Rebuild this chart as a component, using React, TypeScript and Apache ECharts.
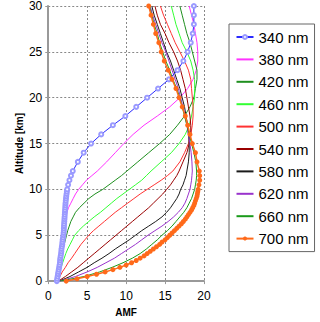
import React, { useEffect, useRef } from "react";
import * as echarts from "echarts";

// Altitude grids [km]
const ALT_FINE = [
  0, 0.25, 0.5, 0.75, 1, 1.25, 1.5, 1.75, 2, 2.25, 2.5, 2.75, 3, 3.25, 3.5, 3.75,
  4, 4.25, 4.5, 4.75, 5, 5.25, 5.5, 5.75, 6, 6.25, 6.5, 6.75, 7, 7.25, 7.5, 7.75,
  8, 8.25, 8.5, 8.75, 9, 9.25, 9.5, 9.75, 10, 10.5, 11, 11.5, 12,
  13, 14, 15, 16, 17, 18, 19, 20, 21, 22, 23, 24, 25, 26, 27, 28, 29, 30,
];
const ALT = [
  0, 0.5, 1, 1.5, 2, 2.5, 3, 3.5, 4, 4.5, 5, 5.5, 6, 6.5, 7, 7.5, 8, 8.5, 9, 9.5,
  10, 10.5, 11, 11.5, 12, 13, 14, 15, 16, 17, 18, 19, 20, 21, 22, 23, 24, 25, 26,
  27, 28, 29, 30,
];

// AMF values per wavelength
const AMF_340 = [
  1.1, 1.15, 1.2, 1.25, 1.3, 1.35, 1.4, 1.45, 1.5, 1.52, 1.55, 1.6, 1.65, 1.68, 1.7, 1.75,
  1.8, 1.82, 1.85, 1.9, 1.95, 1.97, 2.0, 2.0, 2.02, 2.04, 2.06, 2.08, 2.1, 2.12, 2.14, 2.16,
  2.18, 2.2, 2.22, 2.25, 2.28, 2.31, 2.35, 2.39, 2.43, 2.55, 2.72, 2.92, 3.15,
  3.8, 4.55, 5.5, 6.8, 8.3, 9.9, 11.3, 12.7, 14.1, 15.5, 16.6, 17.35, 17.9, 18.3, 18.55, 18.7, 18.7, 18.7,
];
const AMF_700 = [
  2.3, 3.7, 5.0, 6.2, 7.3, 8.3, 9.2, 10.0, 10.7, 11.3, 11.8, 12.3, 12.7, 13.1, 13.5, 13.9,
  14.3, 14.6, 15.0, 15.3, 15.6, 15.9, 16.2, 16.5, 16.8, 17.1, 17.35, 17.6, 17.8, 18.0, 18.2, 18.4,
  18.55, 18.7, 18.8, 18.9, 19.0, 19.1, 19.15, 19.2, 19.25, 19.35, 19.45, 19.45, 19.4,
  19.1, 18.9, 18.5, 18.2, 17.9, 17.6, 17.2, 16.8, 16.4, 15.9, 15.4, 14.9, 14.5, 14.2, 13.8, 13.5, 13.2, 12.9,
];
const AMF_380 = [
  1.15, 1.25, 1.35, 1.45, 1.55, 1.6, 1.7, 1.75, 1.85, 1.9, 2.0, 2.05, 2.1, 2.15, 2.25, 2.4,
  2.6, 2.9, 3.2, 3.5, 3.9, 4.4, 4.9, 5.6, 6.3, 7.5, 8.6, 9.7, 10.9, 12.3, 14.0, 15.6, 16.9,
  17.9, 18.6, 19.0, 19.2, 19.2, 19.1, 18.9, 18.7, 18.4, 18.1,
];
const AMF_420 = [
  1.15, 1.25, 1.35, 1.45, 1.55, 1.65, 1.8, 1.9, 2.05, 2.2, 2.35, 2.5, 2.7, 2.9, 3.2, 3.5,
  4.0, 4.6, 5.2, 6.0, 7.0, 7.8, 8.6, 9.4, 10.1, 11.5, 12.9, 14.3, 15.6, 16.6, 17.5, 18.2, 18.7,
  18.9, 19.1, 19.1, 18.8, 18.5, 18.2, 17.8, 17.5, 17.2, 16.9,
];
const AMF_460 = [
  1.15, 1.3, 1.45, 1.65, 1.85, 2.05, 2.25, 2.5, 2.8, 3.1, 3.4, 3.9, 4.5, 5.2, 5.9, 6.7,
  7.4, 8.1, 8.8, 9.6, 10.4, 11.2, 12.0, 12.6, 13.2, 14.5, 15.8, 16.8, 17.6, 18.1, 18.4, 18.6, 18.8,
  18.8, 18.8, 18.6, 18.3, 17.8, 17.2, 16.8, 16.4, 16.1, 15.8,
];
const AMF_500 = [
  1.2, 1.5, 1.8, 2.2, 2.55, 3.0, 3.4, 3.8, 4.2, 4.7, 5.2, 5.8, 6.5, 7.2, 7.9, 8.6,
  9.4, 10.2, 11.0, 11.8, 12.7, 13.6, 14.5, 15.3, 16.0, 16.9, 17.5, 18.0, 18.3, 18.5, 18.6, 18.6, 18.5,
  18.4, 18.3, 18.0, 17.5, 16.9, 16.3, 15.8, 15.3, 14.8, 14.4,
];
const AMF_540 = [
  1.3, 2.2, 3.0, 3.8, 4.5, 5.2, 5.9, 6.6, 7.3, 8.0, 8.7, 9.4, 10.1, 10.8, 11.5, 12.2,
  12.9, 13.5, 14.1, 14.7, 15.2, 15.7, 16.1, 16.5, 16.8, 17.3, 17.8, 18.1, 18.3, 18.3, 18.2, 18.0, 17.8,
  17.6, 17.3, 17.0, 16.6, 16.1, 15.5, 15.0, 14.4, 14.0, 13.7,
];
const AMF_580 = [
  1.4, 2.8, 3.9, 5.0, 5.9, 6.9, 7.8, 8.6, 9.5, 10.4, 11.2, 12.0, 12.9, 13.8, 14.6, 15.2,
  15.7, 16.1, 16.5, 16.8, 17.0, 17.3, 17.5, 17.7, 17.8, 18.0, 18.1, 18.1, 18.0, 17.9, 17.7, 17.5, 17.2,
  16.9, 16.5, 16.1, 15.7, 15.2, 14.8, 14.4, 14.0, 13.6, 13.3,
];
const AMF_620 = [
  1.5, 3.5, 5.0, 6.3, 7.4, 8.5, 9.4, 10.3, 11.2, 12.0, 12.8, 13.7, 14.6, 15.4, 16.1, 16.7,
  17.2, 17.55, 17.8, 18.0, 18.2, 18.3, 18.4, 18.45, 18.5, 18.45, 18.35, 18.2, 18.0, 17.8, 17.6, 17.3, 17.0,
  16.7, 16.3, 15.9, 15.5, 15.1, 14.6, 14.2, 13.8, 13.4, 13.1,
];
const AMF_660 = [
  1.5, 4.6, 6.6, 8.2, 9.6, 10.8, 11.8, 12.6, 13.3, 14.0, 14.6, 15.3, 15.9, 16.4, 16.9, 17.4,
  17.8, 18.1, 18.4, 18.6, 18.8, 18.9, 19.0, 19.05, 19.05, 18.95, 18.7, 18.4, 18.1, 17.8, 17.5, 17.2, 16.9,
  16.5, 16.0, 15.6, 15.1, 14.7, 14.3, 14.0, 13.6, 13.3, 13.0,
];

const NAMES = ["340 nm", "380 nm", "420 nm", "460 nm", "500 nm", "540 nm", "580 nm", "620 nm", "660 nm", "700 nm"];
const COLORS = ["#2b2bff", "#ff33ff", "#1f8f1f", "#33ff33", "#ff3333", "#990000", "#1a1a1a", "#9933cc", "#1a9a1a", "#ff6a1a"];
const Y_TICKS = [0, 5, 10, 15, 20, 25, 30];
const X_TICKS = [0, 5, 10, 15, 20];

const pair = (xs: number[], ys: number[]) => xs.map((v, i) => [v, ys[i]]);

export default function App() {
  const ref = useRef<HTMLDivElement>(null);
  useEffect(() => {
    if (!ref.current) return;
    const chart = echarts.init(ref.current, null, { renderer: "svg" });
    const font = "Liberation Sans, Arial, sans-serif";
    const lineSeries = (idx: number, vals: number[]) => ({
      name: NAMES[idx],
      type: "line",
      data: pair(vals, ALT),
      symbol: "none",
      lineStyle: { color: COLORS[idx], width: 1 },
      itemStyle: { color: COLORS[idx] },
      z: 2,
    });
    const series: any[] = [
      {
        name: NAMES[0],
        type: "line",
        data: pair(AMF_340, ALT_FINE),
        symbol: "emptyCircle",
        symbolSize: 4,
        showAllSymbol: true,
        lineStyle: { color: "#2b2bff", width: 1 },
        itemStyle: { color: "#9a9aff", borderWidth: 1 },
        z: 3,
      },
      lineSeries(1, AMF_380),
      lineSeries(2, AMF_420),
      lineSeries(3, AMF_460),
      lineSeries(4, AMF_500),
      lineSeries(5, AMF_540),
      lineSeries(6, AMF_580),
      lineSeries(7, AMF_620),
      lineSeries(8, AMF_660),
      {
        name: NAMES[9],
        type: "line",
        data: pair(AMF_700, ALT_FINE),
        symbol: "circle",
        symbolSize: 5,
        showAllSymbol: true,
        lineStyle: { color: "#ff6a1a", width: 1.5 },
        itemStyle: { color: "#ff6a1a" },
        z: 4,
      },
    ];
    const legendData = NAMES.map((n, i) =>
      i === 0 || i === NAMES.length - 1 ? { name: n } : { name: n, itemStyle: { opacity: 0 } }
    );
    chart.setOption({
      animation: false,
      backgroundColor: "#ffffff",
      textStyle: { fontFamily: font },
      grid: { left: 42, top: 6, width: 162, height: 278, containLabel: false },
      xAxis: {
        type: "value",
        min: X_TICKS[0],
        max: X_TICKS[X_TICKS.length - 1],
        interval: 5,
        name: "AMF",
        nameLocation: "middle",
        nameGap: 22,
        nameTextStyle: { fontWeight: "bold", fontSize: 10, color: "#000", fontFamily: font },
        axisLine: { onZero: false, lineStyle: { color: "#999999", width: 2 } },
        axisTick: { show: true, length: 3, lineStyle: { color: "#999999" } },
        axisLabel: { fontSize: 12, color: "#000", margin: 9, fontFamily: font },
        splitLine: { show: true, lineStyle: { color: "#888888", type: [2, 2], width: 1 } },
      },
      yAxis: {
        type: "value",
        min: Y_TICKS[0],
        max: Y_TICKS[Y_TICKS.length - 1],
        interval: 5,
        name: "Altitude [km]",
        nameLocation: "middle",
        nameGap: 24,
        nameTextStyle: { fontWeight: "bold", fontSize: 10, color: "#000", fontFamily: font },
        axisLine: { onZero: false, lineStyle: { color: "#999999", width: 2 } },
        axisTick: { show: true, length: 3, lineStyle: { color: "#999999" } },
        axisLabel: { fontSize: 12, color: "#000", margin: 6, fontFamily: font },
        splitLine: { show: true, lineStyle: { color: "#888888", type: [2, 2], width: 1 } },
      },
      legend: {
        orient: "vertical",
        left: 229,
        top: 24,
        data: legendData,
        itemWidth: 17,
        itemHeight: 5,
        itemGap: 6.4,
        padding: [5, 6, 5, 6.5],
        borderColor: "#666666",
        borderWidth: 1,
        backgroundColor: "#ffffff",
        textStyle: { fontSize: 15, color: "#000", lineHeight: 16, fontFamily: font },
      },
      series,
    });
    return () => chart.dispose();
  }, []);
  return (
    <div
      ref={ref}
      style={{ position: "fixed", left: 0, top: 0, width: 320, height: 322 }}
    />
  );
}
